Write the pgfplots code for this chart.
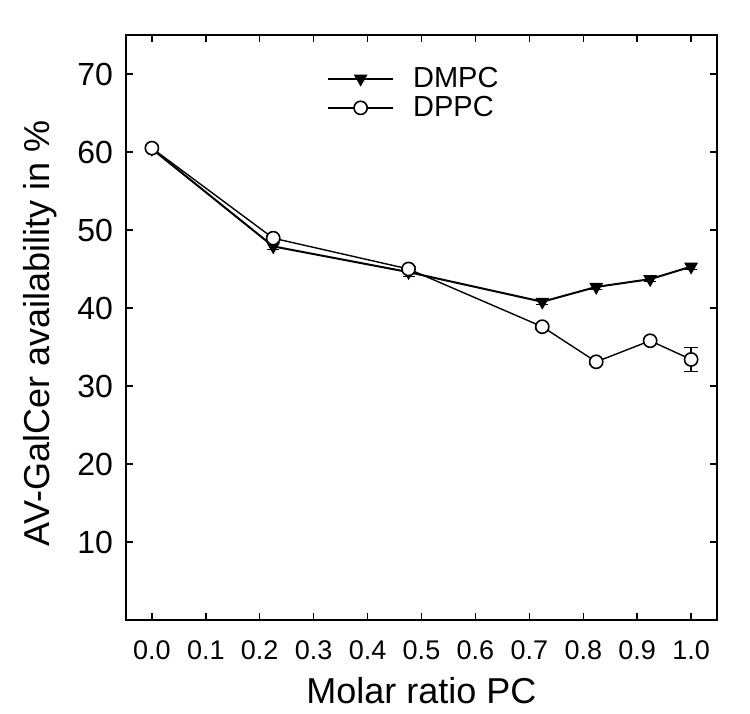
\documentclass[border=0pt]{standalone}
\usepackage{fontspec}
\setmainfont{Liberation Sans}
\usepackage{pgfplots}
\pgfplotsset{compat=1.18}
\newcommand{\legfont}{\fontsize{14.5}{16}\selectfont}
\begin{document}
\begin{tikzpicture}
\begin{axis}[
  scale only axis,
  width=295.5pt, height=292.5pt,
  xmin=-0.048, xmax=1.048,
  ymin=0, ymax=75,
  xtick={0,0.1,...,1.0},
  ytick={10,20,30,40,50,60,70},
  /pgf/number format/assume math mode=true,
  tick align=inside,
  major tick length=3.5pt,
  tick style={black, line width=0.7pt},
  axis line style={line width=1pt},
  yticklabel style={font=\fontsize{16}{18}\selectfont, anchor=east, xshift=-3pt},
  xticklabel style={font=\fontsize{13.5}{15}\selectfont, anchor=center, yshift=-15pt,
    /pgf/number format/fixed, /pgf/number format/fixed zerofill, /pgf/number format/precision=1},
  every axis x label/.style={at={(axis description cs:0.5,0)}, anchor=center, yshift=-35.5pt},
  every axis y label/.style={at={(axis description cs:-0.1455,0.49)}, anchor=center, rotate=90},
  xlabel={Molar ratio PC},
  ylabel={AV-GalCer availability in \%},
  xlabel style={font=\fontsize{18}{20}\selectfont},
  ylabel style={font=\fontsize{18}{20}\selectfont},
  legend style={at={(axis cs:0.325,70.9)}, anchor=north west, draw=none, fill=none,
    inner sep=0pt, outer sep=0pt, row sep=3pt,
    nodes={inner sep=0pt},
    /tikz/every odd column/.append style={column sep=9.5pt}},
  legend cell align=left,
  legend image code/.code={\draw[mark repeat=2,mark phase=2,#1] plot coordinates {(0pt,0pt) (16.25pt,0pt) (32.5pt,0pt)};},
]
\addplot[black, line width=1pt, mark=triangle*, mark size=3pt, mark options={rotate=180, fill=black, solid},
  error bars/.cd, y dir=both, y explicit, error bar style={line width=0.6pt}, error mark options={rotate=90, mark size=3pt}]
  coordinates {
  (0.0,60.4) +- (0,0.4)
  (0.225,47.9) +- (0,0.4)
  (0.476,44.6) +- (0,0.6)
  (0.724,40.8) +- (0,0.3)
  (0.824,42.7) +- (0,0.3)
  (0.924,43.7) +- (0,0.3)
  (1.0,45.3) +- (0,0.3)
};
\addlegendentry{\legfont DMPC}
\addplot[black, line width=0.7pt, mark=*, mark size=3.3pt, mark options={fill=white, solid, line width=0.8pt},
  error bars/.cd, y dir=both, y explicit, error bar style={line width=0.7pt}, error mark options={rotate=90, mark size=3.5pt, line width=0.7pt}]
  coordinates {
  (0.0,60.5) +- (0,0.3)
  (0.225,48.95) +- (0,0.3)
  (0.476,45.0) +- (0,0.3)
  (0.724,37.6) +- (0,0.3)
  (0.824,33.1) +- (0,0.3)
  (0.924,35.8) +- (0,0.3)
  (1.0,33.4) +- (0,1.55)
};
\addlegendentry{\legfont DPPC}
\end{axis}
\path (current axis.south west) ++(-63pt,-46.5pt);
\path (current axis.north east) ++(16.5pt,17.5pt);
\end{tikzpicture}
\end{document}
